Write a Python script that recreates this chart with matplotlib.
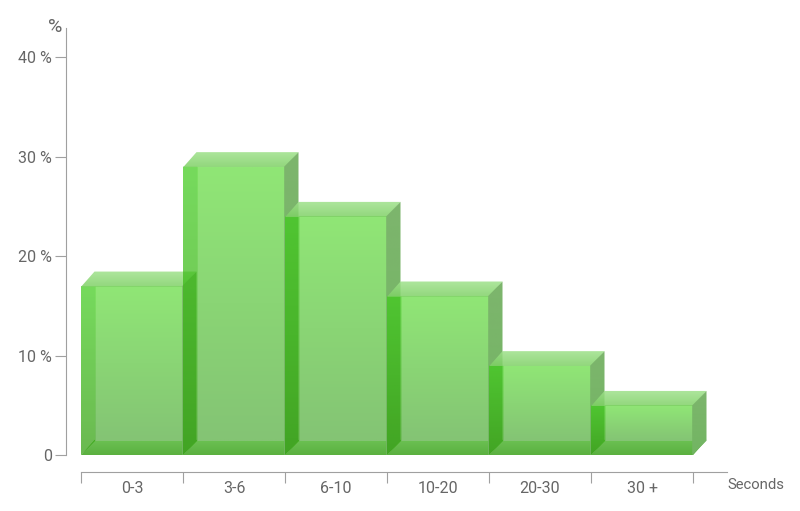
import numpy as np
import matplotlib
matplotlib.use("Agg")
import matplotlib.pyplot as plt
from matplotlib.colors import to_rgb
from matplotlib.patches import Polygon

plt.rcParams["font.family"] = ["Roboto", "DejaVu Sans"]

categories = ["0-3", "3-6", "6-10", "10-20", "20-30", "30 +"]
percent = [17, 29, 24, 16, 9, 5]
y_ticks = [0, 10, 20, 30, 40]
y_labels = ["0", "10 %", "20 %", "30 %", "40 %"]

W, H = 800, 511
DX = 13.5 / 102   # box depth in x units (bar = 102 px wide)
DY = 14.5 / 9.95  # box depth in % units (1 % = 9.95 px)
GREY = "#a0a0a0"
TXT = "#666666"
Y0 = 455.2        # pixel row of 0 %
SEAM_X = 0.8 / 102   # faces overlap by under a pixel so no white seam shows
SEAM_Y = 0.8 / 9.95


def face(ax, verts, top, bot, alpha, z):
    # polygon filled with a vertical gradient: an image clipped to the shape
    xs, ys = zip(*verts)
    t = np.linspace(0, 1, 64)[:, None]
    grad = np.zeros((64, 1, 4))
    grad[..., :3] = (1 - t)[..., None] * np.array(to_rgb(top)) + t[..., None] * np.array(to_rgb(bot))
    grad[..., 3] = alpha
    im = ax.imshow(grad, extent=(min(xs), max(xs), min(ys), max(ys)), origin="upper",
                   aspect="auto", interpolation="bilinear", zorder=z)
    im.set_clip_path(Polygon(verts, closed=True, transform=ax.transData))


def bar3d(ax, i, h):
    x0, x1 = i, i + 1
    z = 2 + i * 0.1
    # floor
    face(ax, [(x0, 0), (x1, 0), (x1 + DX, DY + SEAM_Y), (x0 + DX, DY + SEAM_Y)], "#6CC254", "#5BB040", 1.0, z)
    # inner front
    face(ax, [(x0 + DX, DY), (x1, DY), (x1, h), (x0 + DX, h)], "#90E676", "#84C474", 1.0, z + 0.01)
    # left strip, see-through so the neighbour's side darkens it
    face(ax, [(x0, 0), (x0 + DX + SEAM_X, DY), (x0 + DX + SEAM_X, h), (x0, h)], "#40CC1C", "#309E0C", 0.72, z + 0.02)
    # top
    face(ax, [(x0, h - SEAM_Y), (x1, h - SEAM_Y), (x1 + DX, h + DY), (x0 + DX, h + DY)], "#9FE28C", "#7FD065", 0.85, z + 0.03)
    # right side
    face(ax, [(x1 - SEAM_X, 0), (x1 + DX, DY), (x1 + DX, h + DY), (x1 - SEAM_X, h)], "#7DB56D", "#72B562", 1.0, z + 0.04)


fig = plt.figure(figsize=(W / 100, H / 100), dpi=100)
# axes box in pixels: x 81..727, y Y0 up to 28
ax = fig.add_axes([81 / W, (H - Y0) / H, (727 - 81) / W, (Y0 - 28) / H])

for i, h in enumerate(percent):
    bar3d(ax, i, h)

ax.set_xlim(0, (727 - 81) / 102)
ax.set_ylim(0, (Y0 - 28) / 9.95)

for s in ["top", "right"]:
    ax.spines[s].set_visible(False)
for s in ["left", "bottom"]:
    ax.spines[s].set_color(GREY)
    ax.spines[s].set_linewidth(0.8)
ax.spines["left"].set_position(("outward", 15.5 * 0.72))
ax.spines["bottom"].set_position(("outward", 16.5 * 0.72))

ax.set_yticks(y_ticks, y_labels)
ax.tick_params(axis="y", length=11 * 0.72, width=0.8, color=GREY, labelcolor=TXT, labelsize=11.5, pad=2)

ax.set_xticks(range(len(categories) + 1), [""] * (len(categories) + 1))
ax.set_xticks(np.arange(len(categories)) + 0.5, categories, minor=True)
ax.tick_params(axis="x", which="major", length=11 * 0.72, width=0.8, color=GREY)
ax.tick_params(axis="x", which="minor", length=0, labelcolor=TXT, labelsize=11.5, pad=7)

fig.text(727 / W, 1 - 484.5 / H, "Seconds", color=TXT, fontsize=10.7, va="center", ha="left")
fig.text(55 / W, 1 - 27 / H, "%", color=TXT, fontsize=14, va="center", ha="center")

fig.savefig("out.png", dpi=100)
